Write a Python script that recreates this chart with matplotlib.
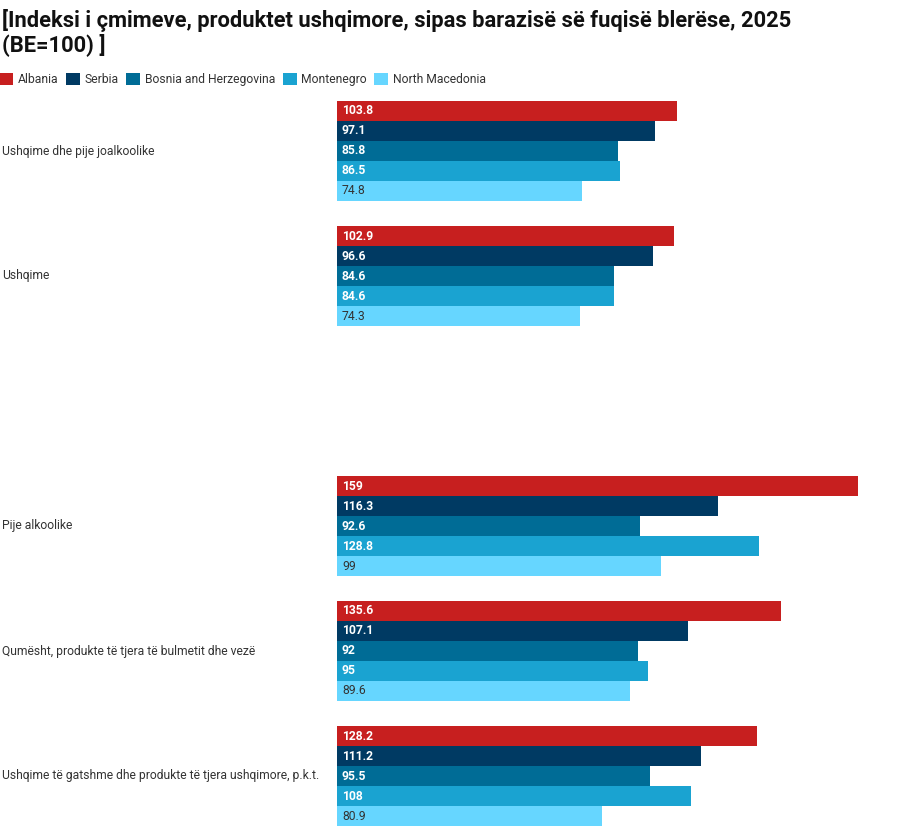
import matplotlib.pyplot as plt
import matplotlib.transforms as mtransforms
from matplotlib.patches import Patch

plt.rcParams['font.family'] = ['Roboto', 'DejaVu Sans']

# data
categories = [
    "Ushqime dhe pije joalkoolike",
    "Ushqime",
    "",
    "Pije alkoolike",
    "Qumësht, produkte të tjera të bulmetit dhe vezë",
    "Ushqime të gatshme dhe produkte të tjera ushqimore, p.k.t.",
]
countries = ["Albania", "Serbia", "Bosnia and Herzegovina", "Montenegro", "North Macedonia"]
albania = [103.8, 102.9, None, 159, 135.6, 128.2]
serbia = [97.1, 96.6, None, 116.3, 107.1, 111.2]
bosnia = [85.8, 84.6, None, 92.6, 92, 95.5]
montenegro = [86.5, 84.6, None, 128.8, 95, 108]
north_macedonia = [74.8, 74.3, None, 99, 89.6, 80.9]
series = [albania, serbia, bosnia, montenegro, north_macedonia]

colors = ["#C71F1F", "#003A63", "#006C96", "#1AA3D1", "#66D6FF"]
label_colors = ["white", "white", "white", "white", "#333333"]
label_weights = ["bold", "bold", "bold", "bold", "normal"]

W, H = 898, 827
fig = plt.figure(figsize=(W / 100, H / 100), dpi=100)

# axes in pixel terms: bars from x=337, y 101..826
ax = fig.add_axes([337 / W, 1 - 826 / H, (W - 337) / W, 725 / H])
step = 6.25
for j, vals in enumerate(series):
    for i, v in enumerate(vals):
        if v is None:
            continue
        y = i * step + j
        ax.barh(y, v, height=1.0, color=colors[j], left=0)
        ax.text(1.5, y, f"{v:g}", va="center", ha="left", fontsize=8.7,
                color=label_colors[j], fontweight=label_weights[j])

ax.set_xlim(0, (W - 337) / 3.275)
ax.set_ylim(5 * step + 4.5, -0.5)
ax.axis("off")

trans = mtransforms.blended_transform_factory(fig.transFigure, ax.transData)
for i, cat in enumerate(categories):
    ax.text(2 / W, i * step + 2, cat, transform=trans, va="center", ha="left",
            fontsize=8.7, color="#333333")

fig.text(2 / W, 1 - 9 / H, "[Indeksi i çmimeve, produktet ushqimore, sipas barazisë së fuqisë blerëse, 2025\n(BE=100) ]",
         va="top", ha="left", fontsize=15.75, fontweight="bold", color="#111111",
         linespacing=1.08)

handles = [Patch(facecolor=c, edgecolor="none") for c in colors]
fig.legend(handles, countries, loc="upper left", bbox_to_anchor=(-0.001, 1 - 73 / H),
           ncol=5, frameon=False, fontsize=8.75, handlelength=1.15, handleheight=1.15,
           handletextpad=0.4, columnspacing=0.6, borderaxespad=0, borderpad=0,
           labelcolor="#333333")

fig.savefig("out.png", dpi=100)
